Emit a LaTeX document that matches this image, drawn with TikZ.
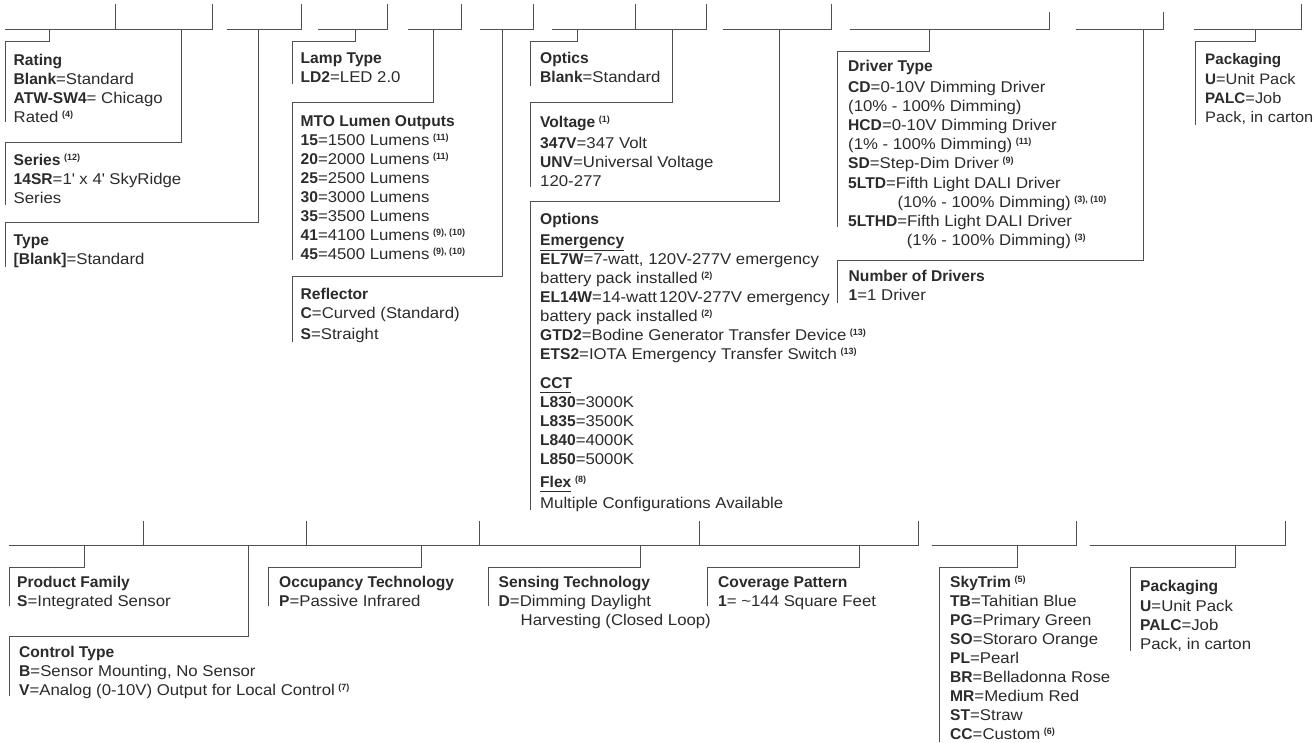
\documentclass[tikz,border=0pt]{standalone}
\usepackage{fontspec}
\setmainfont{Liberation Sans}[FakeStretch=1.075,BoldFeatures={FakeStretch=1.0}]
\definecolor{ink}{HTML}{2B2B2B}
\definecolor{wire}{HTML}{505050}
\newcommand{\nt}[1]{\hspace{3.6pt}\raisebox{4.8pt}{\fontsize{9}{9}\selectfont\bfseries #1}}
\newcommand{\fl}{\rule{0pt}{14pt}}
\tikzset{
  railline/.style={draw=wire,line width=1pt},
  leadline/.style={draw=wire,line width=1pt},
  ruleline/.style={draw=ink,line width=0.9pt},
  spec/.style={font=\fontsize{15.6}{19}\selectfont,text=ink,align=left,inner sep=0pt,anchor=north west}
}
% name, x on rail, rail y, elbow y, left x, end y
\newcommand{\dropline}[6]{%
  \coordinate (#1-a) at (#2,#3);
  \coordinate (#1-b) at (#5,#4);
  \coordinate (#1-c) at (#5,#6);
  \draw[leadline] (#1-a) |- (#1-b) -- (#1-c);
}
% name, left x, right x, y
\newcommand{\railseg}[4]{%
  \coordinate (#1-l) at (#2,#4);
  \coordinate (#1-r) at (#3,#4);
  \draw[railline] (#1-l) -- (#1-r);
}
% name, x, top y, rail y
\newcommand{\tickline}[4]{%
  \coordinate (#1-t) at (#2,#3);
  \coordinate (#1-m) at (#2,#4);
  \draw[railline] (#1-t) -- (#1-m);
}
\begin{document}
\begin{tikzpicture}[x=1pt,y=-1pt]
\useasboundingbox (0,0) rectangle (1314,742);
% ---- top rails
\railseg{ra}{5}{213}{29}
\railseg{rb}{227}{302}{29}
\railseg{rc}{318}{387.5}{29}
\railseg{rd}{408}{462}{29}
\railseg{re}{480}{534}{29}
\railseg{rf}{552}{706.5}{29}
\railseg{rg}{722.5}{831.5}{29}
\railseg{rh}{849.5}{1050}{29}
\railseg{ri}{1075.5}{1163.5}{29}
\railseg{rj}{1194}{1301.5}{29}
\tickline{ta}{115.5}{4}{29}
\tickline{tb}{212.5}{4}{29}
\tickline{tc}{301.5}{4}{29}
\tickline{td}{387}{4}{29}
\tickline{te}{461.5}{4}{29}
\tickline{tf}{533.5}{4}{29}
\tickline{tg}{635.5}{4}{29}
\tickline{th}{706}{4}{29}
\tickline{ti}{831}{4}{29}
\tickline{tj}{1049.5}{12}{29}
\tickline{tk}{1163}{12}{29}
\tickline{tl}{1301}{4}{29}
% ---- top leads
\dropline{da}{49.5}{29}{41.5}{5.5}{122}
\dropline{db}{181}{29}{142}{5.5}{205}
\dropline{dc}{258.5}{29}{222}{5.5}{267}
\dropline{dd}{355.5}{29}{41}{292}{84}
\dropline{de}{433}{29}{102}{292}{260}
\dropline{df}{502.5}{29}{276.5}{292}{342}
\dropline{dg}{577.5}{29}{41.5}{530.5}{86}
\dropline{dh}{672}{29}{102}{530.5}{187}
\dropline{di}{779.5}{29}{201.5}{530.5}{510}
\dropline{dj}{929.5}{29}{51}{837.5}{227}
\dropline{dk}{1143.5}{29}{260.5}{837.5}{302.5}
\dropline{dl}{1255}{29}{41}{1195}{124.5}
% ---- bottom rails
\railseg{sa}{9}{918.5}{545.5}
\railseg{sb}{932}{1076.5}{545.5}
\railseg{sc}{1089.5}{1286}{545.5}
\tickline{ua}{143}{521}{545.5}
\tickline{ub}{306.5}{521}{545.5}
\tickline{uc}{479.5}{521}{545.5}
\tickline{ud}{699}{521}{545.5}
\tickline{ue}{918}{521}{545.5}
\tickline{uf}{1076}{521}{545.5}
\tickline{ug}{1285.5}{521}{545.5}
% ---- bottom leads
\dropline{ea}{84.5}{545.5}{567.5}{9}{606}
\dropline{eb}{248}{545.5}{636}{9}{696}
\dropline{ec}{421}{545.5}{567.5}{268.5}{606}
\dropline{ed}{640.5}{545.5}{567.5}{488}{606}
\dropline{ee}{859.5}{545.5}{567.5}{707.5}{606}
\dropline{ef}{1017.5}{545.5}{567}{939.5}{742}
\dropline{eg}{1235}{545.5}{567}{1130.5}{651}
% ---- top texts (y = first baseline - 14)
\node[spec] (rating) at (13.5,51) {\fl\textbf{Rating}\\\textbf{Blank}=Standard\\\textbf{ATW-SW4}= Chicago\\Rated\nt{(4)}};
\node[spec] (series) at (13.5,151) {\fl\textbf{Series}\nt{(12)}\\\textbf{14SR}=1\textquotesingle\ x 4\textquotesingle\ SkyRidge\\Series};
\node[spec] (type) at (13.5,231) {\fl\textbf{Type}\\\textbf{[Blank]}=Standard};
\node[spec] (lamp) at (300.5,49) {\fl\textbf{Lamp Type}\\\textbf{LD2}=LED 2.0};
\node[spec] (mto) at (300.5,112) {\fl\textbf{MTO Lumen Outputs}\\\textbf{15}=1500 Lumens\nt{(11)}\\\textbf{20}=2000 Lumens\nt{(11)}\\\textbf{25}=2500 Lumens\\\textbf{30}=3000 Lumens\\\textbf{35}=3500 Lumens\\\textbf{41}=4100 Lumens\nt{(9), (10)}\\\textbf{45}=4500 Lumens\nt{(9), (10)}};
\node[spec] (reflector) at (300.5,285) {\fl\textbf{Reflector}\\\textbf{C}=Curved (Standard)\\[2pt]\textbf{S}=Straight};
\node[spec] (optics) at (540,49.5) {\fl\textbf{Optics}\\\textbf{Blank}=Standard};
\node[spec] (voltage) at (540,113) {\fl\textbf{Voltage}\nt{(1)}\\[2pt]\textbf{347V}=347 Volt\\\textbf{UNV}=Universal Voltage\\120-277};
\node[spec] (options) at (540,210) {\fl\textbf{Options}\\[2.5pt]\textbf{Emergency}\\\textbf{EL7W}=7-watt, 120V-277V emergency\\battery pack installed\nt{(2)}\\\textbf{EL14W}=14-watt\hspace*{-2.5pt} 120V-277V emergency\\battery pack installed\nt{(2)}\\\textbf{GTD2}=Bodine Generator Transfer Device\nt{(13)}\\\textbf{ETS2}=IOTA Emergency Transfer Switch\nt{(13)}};
\node[spec] (cct) at (540,374) {\fl\textbf{CCT}\\\textbf{L830}=3000K\\\textbf{L835}=3500K\\\textbf{L840}=4000K\\\textbf{L850}=5000K};
\node[spec] (flex) at (540,473) {\fl\textbf{Flex}\nt{(8)}\\[2pt]Multiple Configurations Available};
\coordinate (emA) at (540,250); \coordinate (emB) at (624,250);
\coordinate (ccA) at (540,392); \coordinate (ccB) at (570.5,392);
\coordinate (flA) at (540,491); \coordinate (flB) at (570.5,491);
\draw[ruleline] (emA) -- (emB);
\draw[ruleline] (ccA) -- (ccB);
\draw[ruleline] (flA) -- (flB);
\node[spec] (driver) at (848,57.5) {\fl\textbf{Driver Type}\\[2pt]\textbf{CD}=0-10V Dimming Driver\\(10\% - 100\% Dimming)\\\textbf{HCD}=0-10V Dimming Driver\\(1\% - 100\% Dimming)\nt{(11)}\\\textbf{SD}=Step-Dim Driver\nt{(9)}\\[1pt]\textbf{5LTD}=Fifth Light DALI Driver\\\hspace*{49.3pt}(10\% - 100\% Dimming)\nt{(3), (10)}\\\textbf{5LTHD}=Fifth Light DALI Driver\\\hspace*{58.7pt}(1\% - 100\% Dimming)\nt{(3)}};
\node[spec] (numdrv) at (848.5,267) {\fl\textbf{Number of Drivers}\\\textbf{1}=1 Driver};
\node[spec,font=\fontsize{15.2}{19}\selectfont] (pack) at (1205,50) {\fl\textbf{Packaging}\\[1.5pt]\textbf{U}=Unit Pack\\\textbf{PALC}=Job\\Pack, in carton};
% ---- bottom texts
\node[spec] (family) at (17,573.5) {\fl\textbf{Product Family}\\\textbf{S}=Integrated Sensor};
\node[spec] (control) at (19,643) {\fl\textbf{Control Type}\\\textbf{B}=Sensor Mounting, No Sensor\\\textbf{V}=Analog (0-10V) Output for Local Control\nt{(7)}};
\node[spec] (occ) at (279,573.5) {\fl\textbf{Occupancy Technology}\\\textbf{P}=Passive Infrared};
\node[spec] (sensing) at (498.5,573.5) {\fl\textbf{Sensing Technology}\\\textbf{D}=Dimming Daylight\\\hspace*{22pt}Harvesting (Closed Loop)};
\node[spec] (coverage) at (718,573.5) {\fl\textbf{Coverage Pattern}\\\textbf{1}= \textasciitilde144 Square Feet};
\node[spec] (skytrim) at (950,573.5) {\fl\textbf{SkyTrim}\nt{(5)}\\\textbf{TB}=Tahitian Blue\\\textbf{PG}=Primary Green\\\textbf{SO}=Storaro Orange\\\textbf{PL}=Pearl\\\textbf{BR}=Belladonna Rose\\\textbf{MR}=Medium Red\\\textbf{ST}=Straw\\\textbf{CC}=Custom\nt{(6)}};
\node[spec] (pack2) at (1140,577) {\fl\textbf{Packaging}\\[1.5pt]\textbf{U}=Unit Pack\\\textbf{PALC}=Job\\Pack, in carton};
\end{tikzpicture}
\end{document}
